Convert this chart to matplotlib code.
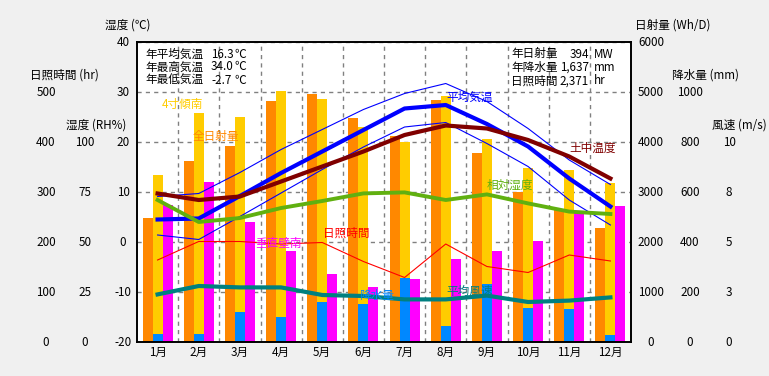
import matplotlib
matplotlib.use("Agg")
import matplotlib.pyplot as plt
import matplotlib.transforms as mtransforms
import numpy as np

plt.rcParams["font.family"] = ["Noto Sans CJK JP", "DejaVu Sans"]

# ── Data ─────────────────────────────────────────────────────────────────────
months      = ["1月", "2月", "3月", "4月", "5月", "6月",
               "7月", "8月", "9月", "10月", "11月", "12月"]
solar_total = [2490, 3620, 3920, 4830, 4960, 4490, 4120, 4840, 3790, 3000, 2660, 2290]   # 全日射量
solar_south = [3340, 4590, 4500, 5030, 4860, 4310, 4010, 4920, 4060, 3490, 3440, 3190]   # 4寸傾南
solar_wall  = [2740, 3210, 2410, 1830, 1360, 1100, 1260, 1660, 1830, 2030, 2610, 2730]   # 垂直壁南
precip      = [32, 32, 120, 101, 160, 153, 257, 65, 231, 137, 132, 28]                   # 降水量 mm
temp_avg    = [4.5, 4.7, 9.2, 13.8, 18.1, 22.4, 26.7, 27.4, 23.6, 19.1, 12.7, 7.1]
temp_max    = [9.1, 9.7, 13.9, 18.5, 22.5, 26.5, 29.7, 31.7, 28.1, 22.7, 16.4, 11.5]
temp_min    = [1.4, 0.5, 5.1, 9.8, 14.5, 19.0, 23.0, 23.9, 19.7, 15.1, 8.4, 3.4]
soil_temp   = [9.7, 8.4, 9.1, 12.1, 15.1, 18.1, 21.4, 23.3, 22.7, 20.4, 17.1, 12.7]
humidity    = [71, 60, 62, 67, 70.5, 74.3, 74.8, 71, 73.8, 69.3, 65.2, 64]
sunshine    = [164, 201, 201, 196, 199, 161, 129, 196, 151, 139, 174, 162]
wind        = [2.38, 2.8, 2.73, 2.73, 2.35, 2.3, 2.13, 2.13, 2.32, 2.0, 2.07, 2.23]

W, H = 769, 376
FS = 8.4

def fx(px):
    return px / W

def fy(py):
    return 1 - py / H

x = np.arange(len(months))
bw = 0.243

fig = plt.figure(figsize=(W / 100, H / 100), dpi=100, facecolor="#F0F0F0")
ax = fig.add_axes([fx(137), fy(342), fx(631) - fx(137), fy(42) - fy(342)])
ax.set_facecolor("white")
ax.set_xlim(-0.5, 11.5)
ax.set_ylim(-20, 40)
ax.set_yticks(np.arange(-20, 41, 10))
ax.set_xticks(x + 0.5, minor=False)
ax.grid(True, color="#808080", linestyle=(0, (3, 3)), linewidth=1)
ax.tick_params(length=0, labelleft=False, labelbottom=False)
for s in ax.spines.values():
    s.set_visible(False)


def twin(lo, hi):
    t = ax.twinx()
    t.set_ylim(lo, hi)
    t.set_xlim(-0.5, 11.5)
    t.patch.set_visible(False)
    t.set_yticks([])
    for s in t.spines.values():
        s.set_visible(False)
    return t

# every scale shares the same 300 px height; the ranges match the tick labels
ax_sol  = twin(0, 6000)
ax_pre  = twin(0, 1200)
ax_temp = twin(-20, 40)
ax_hum  = twin(0, 150)
ax_sun  = twin(0, 600)
ax_wind = twin(0, 15)

# bars
ax_sol.bar(x - bw, solar_total, bw, color="#FF8800", linewidth=0)
ax_sol.bar(x, solar_south, bw, color="#FFCC00", linewidth=0)
ax_sol.bar(x + bw, solar_wall, bw, color="#FF00FF", linewidth=0)
ax_pre.bar(x, precip, bw, color="#0088FF", linewidth=0)

# lines
ax_temp.plot(x, temp_max, color="#0000FF", lw=0.8)
ax_temp.plot(x, temp_min, color="#0000FF", lw=0.8)
ax_temp.plot(x, temp_avg, color="#0000FF", lw=3)
ax_temp.plot(x, soil_temp, color="#800000", lw=3)
ax_hum.plot(x, humidity, color="#60B010", lw=2.8)
ax_sun.plot(x, sunshine, color="#FF0000", lw=0.8)
ax_wind.plot(x, wind, color="#008080", lw=3)

for s in ax_wind.spines.values():
    s.set_visible(True)
    s.set_color("black")
    s.set_linewidth(1.4)

# month labels
for i, m in enumerate(months):
    ax.text(i, -0.035, m, transform=mtransforms.blended_transform_factory(ax.transData, ax.transAxes),
            ha="center", va="center", fontsize=FS)

# axis tick labels (left / right)
def scale_labels(axis, values, labels, px):
    tr = mtransforms.blended_transform_factory(fig.transFigure, axis.transData)
    for v, lab in zip(values, labels):
        fig.text(fx(px), v, lab, transform=tr, ha="center", va="center", fontsize=FS)

temp_ticks = list(range(-20, 41, 10))
scale_labels(ax, temp_ticks, [str(v) for v in temp_ticks], 123)
sun_ticks = list(range(0, 501, 100))
scale_labels(ax_sun, sun_ticks, [str(v) for v in sun_ticks], 46)
hum_ticks = [0, 25, 50, 75, 100]
scale_labels(ax_hum, hum_ticks, [str(v) for v in hum_ticks], 85)
sol_ticks = list(range(0, 6001, 1000))
scale_labels(ax_sol, sol_ticks, [str(v) for v in sol_ticks], 651)
pre_ticks = list(range(0, 1001, 200))
scale_labels(ax_pre, pre_ticks, [str(v) for v in pre_ticks], 690)
wind_ticks = [0, 2.5, 5, 7.5, 10]
scale_labels(ax_wind, wind_ticks, ["0", "3", "5", "8", "10"], 729)

# axis titles
fig.text(fx(128), fy(25), "湿度 (℃)", ha="center", va="center", fontsize=FS)
fig.text(fx(64), fy(75), "日照時間 (hr)", ha="center", va="center", fontsize=FS)
fig.text(fx(96), fy(125), "湿度 (RH%)", ha="center", va="center", fontsize=FS)
fig.text(fx(673), fy(25), "日射量 (Wh/D)", ha="center", va="center", fontsize=FS)
fig.text(fx(705), fy(75), "降水量 (mm)", ha="center", va="center", fontsize=FS)
fig.text(fx(739), fy(125), "風速 (m/s)", ha="center", va="center", fontsize=FS)

# annual summary boxes
left_rows = [("年平均気温", "16.3"), ("年最高気温", "34.0"), ("年最低気温", "-2.7")]
for k, (lab, val) in enumerate(left_rows):
    yy = fy(54 + 13 * k)
    fig.text(fx(145), yy, lab, ha="left", va="center", fontsize=FS)
    fig.text(fx(211), yy, val, ha="left", va="center", fontsize=FS)
    fig.text(fx(234), yy, "℃", ha="left", va="center", fontsize=FS)

right_rows = [("年日射量", "394", "MW"), ("年降水量", "1,637", "mm"), ("日照時間", "2,371", "hr")]
for k, (lab, val, unit) in enumerate(right_rows):
    yy = fy(54 + 13.5 * k)
    fig.text(fx(511), yy, lab, ha="left", va="center", fontsize=FS)
    fig.text(fx(589), yy, val, ha="right", va="center", fontsize=FS)
    fig.text(fx(594), yy, unit, ha="left", va="center", fontsize=FS)

# series labels inside the plot
series_labels = [
    ("4寸傾南", 162, 104, "#FFCC00"),
    ("全日射量", 193, 137, "#FF8800"),
    ("垂直壁南", 255, 243, "#FF00FF"),
    ("日照時間", 323, 233, "#FF0000"),
    ("降水量", 359, 295, "#0088FF"),
    ("平均風速", 446, 291, "#008080"),
    ("相対湿度", 487, 185, "#60B010"),
    ("平均気温", 446, 97, "#0000FF"),
    ("土中温度", 569, 148, "#800000"),
]
for txt, px, py, col in series_labels:
    fig.text(fx(px), fy(py), txt, ha="left", va="center", fontsize=FS, color=col, zorder=10)

fig.savefig("out.png", dpi=100, facecolor=fig.get_facecolor())
